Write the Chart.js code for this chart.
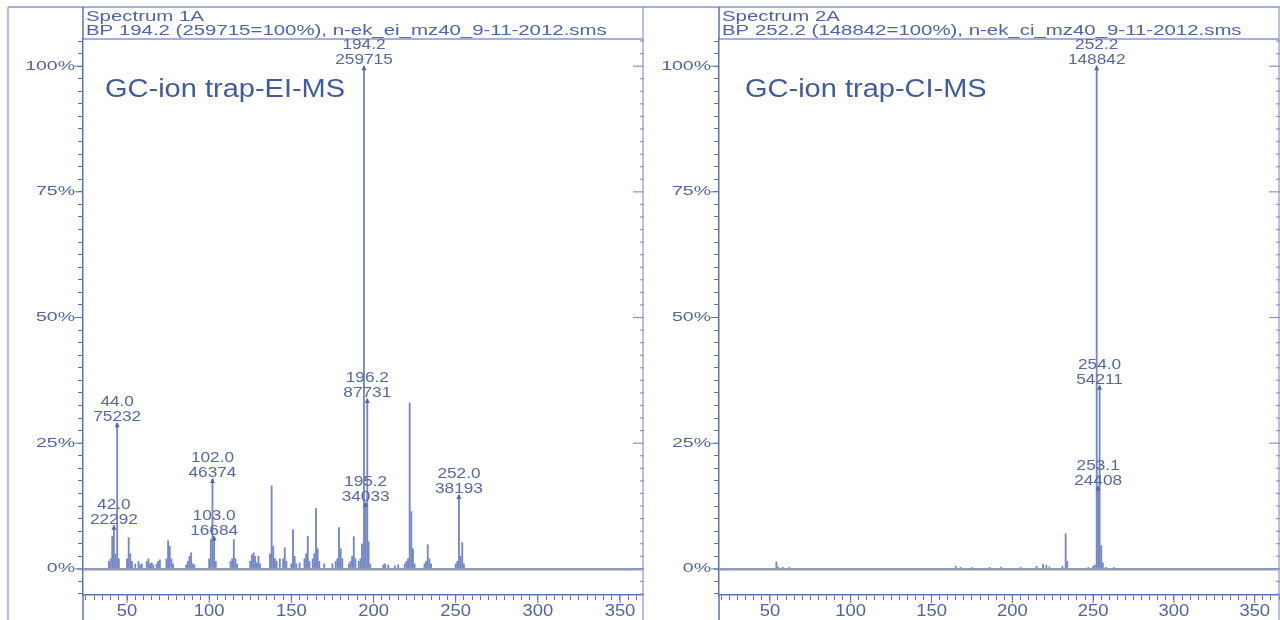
<!DOCTYPE html>
<html>
<head>
<meta charset="utf-8">
<script src="https://cdn.jsdelivr.net/npm/chart.js@4.4.1/dist/chart.umd.min.js"></script>
<style>
  html, body { margin: 0; padding: 0; background: #fff; }
  #wrap { position: relative; width: 1280px; height: 620px; overflow: hidden; }
  canvas { position: absolute; top: 0; }
  #ei { left: 0; }
  #ci { left: 643px; }
</style>
</head>
<body>
<div id="wrap">
  <canvas id="ei" width="644" height="620"></canvas>
  <canvas id="ci" width="637" height="620"></canvas>
</div>
<script>
// --- EI spectrum (left panel): m/z and relative intensity in % ---
const eiMz = [39, 40, 41, 42.0, 43, 44.0, 45, 50, 51, 52, 53, 55, 57, 58, 59, 62, 63, 64, 65, 66, 68, 69, 70,
  74, 75, 76, 77, 78, 86, 87, 88, 89, 90, 91, 100, 101, 102.0, 103.0, 104, 113, 114, 115, 116, 117,
  125, 126, 127, 128, 129, 130, 131, 137, 138, 139, 140, 141, 143, 145, 146, 147, 150, 151, 152, 153,
  155, 158, 159, 160, 161, 163, 164, 165, 166, 167, 170, 175, 177, 178, 179, 180, 181, 185, 186, 187,
  188, 189, 191, 192, 193, 194.2, 195.2, 196.2, 197, 198, 206, 207, 209, 213, 215, 219, 220, 221, 222,
  223, 224, 225, 231, 232, 233, 234, 235, 250, 251, 252.0, 253, 254, 255];
const eiPct = [1.5, 2, 6.5, 8.58, 3, 28.97, 2, 2, 6.2, 3, 1.5, 1, 1.5, 0.8, 1, 1.5, 2, 1, 1.2, 0.8, 1, 1.5, 1.8,
  2, 5.6, 4.5, 2, 1, 0.8, 1.5, 2.5, 3.2, 1, 0.8, 2, 5.8, 17.86, 6.42, 1.5, 1.5, 2, 5.8, 2, 1,
  1.5, 2.8, 3.2, 2.5, 1.2, 2.5, 1, 3, 16.5, 4.5, 2, 1.5, 2, 2, 4.2, 1.5, 1, 7.8, 2.5, 1,
  1.2, 2, 3, 6.5, 1.5, 2, 3, 12, 4, 1.5, 1, 1, 1.5, 2, 8.2, 4, 2, 1, 1.5, 2.5,
  6.4, 2, 1.5, 2, 5, 100, 13.10, 33.78, 5.4, 1, 0.8, 1, 0.8, 0.6, 0.8, 1, 1.5, 2, 33,
  11.4, 4, 1, 1, 1.5, 4.8, 2, 1, 1, 1.5, 14.71, 2.5, 5.2, 1];
const eiLabelMz = [42.0, 44.0, 102.0, 103.0, 194.2, 195.2, 196.2, 252.0];
const eiLabelCounts = ['22292', '75232', '46374', '16684', '259715', '34033', '87731', '38193'];

// --- CI spectrum (right panel) ---
const ciMz = [54, 55, 58, 62, 165, 168, 175, 186, 193, 205, 215, 219, 221, 223, 231, 233, 234, 247,
  250, 251, 252.2, 253.1, 254.0, 255, 256, 258, 263];
const ciPct = [1.4, 0.4, 0.3, 0.3, 0.5, 0.3, 0.2, 0.3, 0.3, 0.3, 0.5, 0.9, 0.7, 0.4, 0.5, 7, 1.5, 0.3,
  0.5, 0.8, 100, 16.40, 36.42, 4.6, 1.2, 0.3, 0.2];
const ciLabelMz = [252.2, 253.1, 254.0];
const ciLabelCounts = ['148842', '24408', '54211'];

// axis labels
const xTickLabels = [50, 100, 150, 200, 250, 300, 350];
const yTickLabels = [0, 25, 50, 75, 100];

const FONT = "'Liberation Sans', Arial, sans-serif";
const AXIS = '#5a74b8';
const FRAME = '#8796cc';
const PEAK = '#7487c6';
const BASE = '#8e99b3';
const TXT = '#51649f';

// draws text stretched sideways, like the scanned original
function wideText(ctx, txt, x, y, size, sx, align, color) {
  ctx.save();
  ctx.font = size + 'px ' + FONT;
  ctx.textBaseline = 'middle';
  ctx.textAlign = 'left';
  const w = ctx.measureText(txt).width * sx;
  let left = x;
  if (align === 'center') left = x - w / 2;
  if (align === 'right') left = x - w;
  ctx.translate(left, y);
  ctx.scale(sx, 1);
  ctx.fillStyle = color;
  ctx.fillText(txt, 0, 0);
  ctx.restore();
}

function seg(ctx, x1, y1, x2, y2) {
  ctx.beginPath();
  ctx.moveTo(x1, y1);
  ctx.lineTo(x2, y2);
  ctx.stroke();
}

const panelDeco = {
  id: 'panelDeco',
  afterDraw(chart, args, o) {
    const ctx = chart.ctx, a = chart.chartArea;
    const xs = chart.scales.x, ys = chart.scales.y;
    ctx.save();
    // outer frame
    ctx.strokeStyle = FRAME;
    ctx.lineWidth = 1.3;
    seg(ctx, o.frameLeft, 7, chart.width, 7);
    if (o.outerLeft != null) seg(ctx, o.outerLeft, 7, o.outerLeft, 620);
    seg(ctx, a.left, a.top, a.right, a.top);
    // y axis runs the full height
    ctx.strokeStyle = AXIS;
    ctx.lineWidth = 1.5;
    seg(ctx, a.left, 7, a.left, a.top);
    seg(ctx, a.left, a.bottom, a.left, 620);
    // longer marks for the labelled ticks
    ctx.lineWidth = 1;
    yTickLabels.forEach(v => {
      const y = ys.getPixelForValue(v);
      seg(ctx, a.left - 8, y, a.left, y);
    });
    xTickLabels.forEach(v => {
      const x = xs.getPixelForValue(v);
      seg(ctx, x, a.bottom, x, a.bottom + 8);
    });
    // right hand axis with inward ticks
    ctx.lineWidth = 1.2;
    ctx.strokeStyle = FRAME;
    seg(ctx, a.right, 7, a.right, 620);
    ys.ticks.forEach(t => {
      const y = ys.getPixelForValue(t.value);
      const major = t.value % 25 === 0;
      seg(ctx, a.right - (major ? 10 : 3), y, a.right + 2, y);
    });
    // tick labels
    xTickLabels.forEach(v => wideText(ctx, String(v), xs.getPixelForValue(v), 612, 16, 1.15, 'center', TXT));
    yTickLabels.forEach(v => wideText(ctx, v + '%', a.left - 8, ys.getPixelForValue(v), 13, 1.5, 'right', TXT));
    // header
    wideText(ctx, o.head1, a.left + 3, 17, 15, 1.36, 'left', '#4d64a6');
    wideText(ctx, o.head2, a.left + 3, 31, 15, 1.36, 'left', '#4d64a6');
    // method name
    wideText(ctx, o.title, o.titleX, 90, 25, 1.16, 'left', '#3f5c9e');
    // peak annotations
    o.labelMz.forEach((m, i) => {
      const p = o.pct[o.mz.indexOf(m)];
      const px = xs.getPixelForValue(m), py = ys.getPixelForValue(p);
      wideText(ctx, m.toFixed(1), px, py - 21, 15, 1.15, 'center', '#56699f');
      wideText(ctx, o.counts[i], px, py - 6, 15, 1.15, 'center', '#56699f');
      ctx.fillStyle = '#56699f';
      ctx.beginPath();
      ctx.moveTo(px, py - 1);
      ctx.lineTo(px - 2.5, py + 4);
      ctx.lineTo(px + 2.5, py + 4);
      ctx.closePath();
      ctx.fill();
    });
    ctx.restore();
  }
};

function makeSpectrum(id, mz, pct, xMin, xMax, yWidth, deco) {
  const ctx = document.getElementById(id).getContext('2d');
  return new Chart(ctx, {
    type: 'bar',
    data: {
      datasets: [{
        data: mz.map((m, i) => ({ x: m, y: pct[i] })),
        backgroundColor: PEAK,
        borderWidth: 0,
        barThickness: 1.2,
        grouped: false
      }]
    },
    options: {
      responsive: false,
      animation: false,
      devicePixelRatio: 1,
      layout: { padding: { top: 39, right: 1, left: 0, bottom: 0 } },
      plugins: {
        legend: { display: false },
        tooltip: { enabled: false },
        panelDeco: Object.assign({ mz: mz, pct: pct }, deco)
      },
      scales: {
        x: {
          type: 'linear',
          min: xMin,
          max: xMax,
          offset: false,
          ticks: { stepSize: 5, includeBounds: false, autoSkip: false, display: false },
          grid: { drawOnChartArea: false, offset: false, tickLength: 5, color: AXIS, tickColor: AXIS, tickWidth: 1 },
          border: { color: AXIS, width: 1.5 },
          afterFit: s => { s.height = 25; }
        },
        y: {
          min: -5.2,
          max: 105.4,
          ticks: { stepSize: 2.5, includeBounds: false, display: false },
          grid: {
            drawOnChartArea: true,
            tickLength: 5,
            tickColor: AXIS,
            tickWidth: 1,
            color: c => (c.tick && c.tick.value === 0 ? BASE : 'rgba(0,0,0,0)'),
            lineWidth: c => (c.tick && c.tick.value === 0 ? 2.5 : 1)
          },
          border: { color: AXIS, width: 1.5 },
          afterFit: s => { s.width = yWidth; }
        }
      }
    },
    plugins: [panelDeco]
  });
}

makeSpectrum('ei', eiMz, eiPct, 23.2, 364, 83, {
  frameLeft: 8, outerLeft: 8,
  head1: 'Spectrum 1A',
  head2: 'BP 194.2 (259715=100%), n-ek_ei_mz40_9-11-2012.sms',
  title: 'GC-ion trap-EI-MS', titleX: 105,
  labelMz: eiLabelMz, counts: eiLabelCounts
});

makeSpectrum('ci', ciMz, ciPct, 18.5, 365, 76, {
  frameLeft: 0, outerLeft: null,
  head1: 'Spectrum 2A',
  head2: 'BP 252.2 (148842=100%), n-ek_ci_mz40_9-11-2012.sms',
  title: 'GC-ion trap-CI-MS', titleX: 102,
  labelMz: ciLabelMz, counts: ciLabelCounts
});
</script>
</body>
</html>
